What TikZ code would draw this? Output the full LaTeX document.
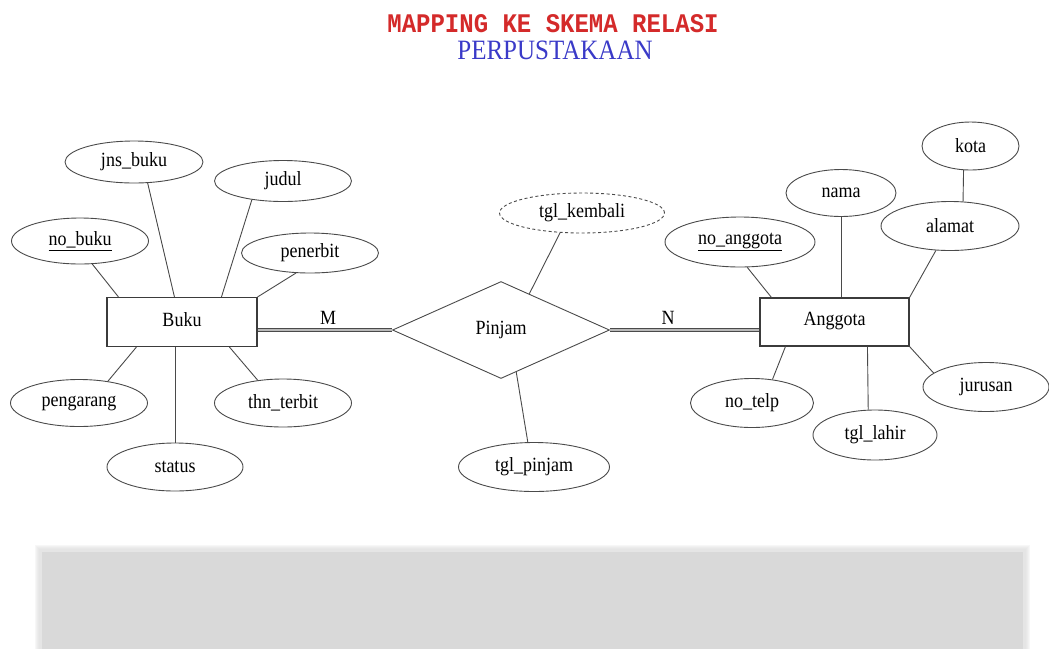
\documentclass[tikz,border=0pt]{standalone}
\usepackage{graphicx}
\usepackage{fontspec}
\setmainfont{Liberation Serif}
\newfontfamily\monob{Liberation Mono}
\usetikzlibrary{shapes.geometric,calc}
\definecolor{ttlred}{HTML}{D42A2A}
\definecolor{ttlblue}{HTML}{3A3AC8}
\definecolor{ln}{HTML}{4A4A4A}
\definecolor{boxgray}{HTML}{D9D9D9}
\newcommand\tx[1]{\scalebox{1}[1.12]{#1}}
\begin{document}
\begin{tikzpicture}[x=1pt,y=-1pt,
 lbl/.style={font=\fontsize{18}{20}\selectfont},
 attr/.style={ellipse,draw=ln,line width=0.9pt,inner sep=0pt,lbl},
 ent/.style={rectangle,draw=ln!80!black,line width=1.1pt,minimum width=150pt,minimum height=49pt,inner sep=0pt,text depth=6pt,lbl},
 rel/.style={diamond,draw=ln,line width=0.9pt,minimum width=217pt,minimum height=97pt,inner sep=0pt,text depth=5pt,lbl},
 conn/.style={draw=ln,line width=0.9pt},
 dbl/.style={draw=ln,line width=1pt,double=gray!55,double distance=1.6pt},
 card/.style={inner sep=0pt,lbl}]
\useasboundingbox (0,0) rectangle (1049,649);
\fill[white] (0,0) rectangle (1049,649);

% titles
\node[font=\monob\bfseries\fontsize{24}{26}\selectfont,text=ttlred] (t1) at (553,24) {\tx{MAPPING KE SKEMA RELASI}};
\node[font=\fontsize{25}{27}\selectfont,text=ttlblue] (t2) at (555,50) {\tx{PERPUSTAKAAN}};

% grey panel with soft edge
\foreach \d in {1,2,3,4,5} {\fill[boxgray,opacity=0.2] (40-\d,550-\d) rectangle (1025+\d,649);}
\fill[boxgray] (42,552) rectangle (1023,649);

% entities and relationship
\node[ent] (buku) at (182,322) {\tx{Buku}};
\node[ent,minimum width=149pt,minimum height=48pt] (ang) at (834.5,322) {\tx{Anggota}};
\node[rel] (pin) at (501,330) {\tx{Pinjam}};

% Buku attributes
\node[attr,minimum width=137pt,minimum height=46pt] (nob) at (80,241) {\tx{\underline{no\_buku}}};
\node[attr,minimum width=138pt,minimum height=42pt] (jns) at (134,162) {\tx{jns\_buku}};
\node[attr,minimum width=137pt,minimum height=41pt] (jud) at (283,181) {\tx{judul}};
\node[attr,minimum width=137pt,minimum height=40pt] (pen) at (310,253) {\tx{penerbit}};
\node[attr,minimum width=137pt,minimum height=47pt] (peng) at (79,403) {\tx{pengarang}};
\node[attr,minimum width=137pt,minimum height=48pt] (thn) at (283,403) {\tx{thn\_terbit}};
\node[attr,minimum width=136pt,minimum height=48pt] (sta) at (175,467) {\tx{status}};

% Pinjam attributes
\node[attr,dashed,dash pattern=on 3pt off 2.5pt,minimum width=165pt,minimum height=40pt] (tkem) at (582,213) {\tx{tgl\_kembali}};
\node[attr,minimum width=151pt,minimum height=49pt] (tpin) at (534,467) {\tx{tgl\_pinjam}};

% Anggota attributes
\node[attr,minimum width=150pt,minimum height=50pt] (noa) at (740,242) {\tx{\underline{no\_anggota}}};
\node[attr,minimum width=110pt,minimum height=47pt] (nam) at (841,193) {\tx{nama}};
\node[attr,minimum width=138pt,minimum height=49pt] (ala) at (950,226) {\tx{alamat}};
\node[attr,minimum width=97pt,minimum height=48pt] (kot) at (970.5,146) {\tx{kota}};
\node[attr,minimum width=123pt,minimum height=49pt] (tel) at (752,403) {\tx{no\_telp}};
\node[attr,minimum width=124pt,minimum height=50pt] (lah) at (875,435) {\tx{tgl\_lahir}};
\node[attr,minimum width=126pt,minimum height=49pt] (jur) at (986,387) {\tx{jurusan}};

% cardinalities
\node[card] (m) at (328,318) {\tx{M}};
\node[card] (n) at (668,318) {\tx{N}};

% relationship lines
\draw[dbl] (pin.west -| buku.east) -- (pin.west);
\draw[dbl] (pin.east) -- (pin.east -| ang.west);

% Buku connectors
\draw[conn] (nob.-62) -- ($(buku.north west)+(12,0)$);
\draw[conn] (jns.-57) -- ($(buku.north west)+(68,0)$);
\draw[conn] (jud.-149) -- ($(buku.north west)+(115,0)$);
\draw[conn] (pen.-125) -- (buku.north east);
\draw[conn] (peng.37) -- ($(buku.south west)+(30,0)$);
\draw[conn] (sta.north) -- (sta.north |- buku.south);
\draw[conn] (thn.138) -- ($(buku.south west)+(123,0)$);

% Pinjam connectors
\draw[conn] (tkem.-138) -- ($(pin.north)!0.26!(pin.east)$);
\draw[conn] ($(pin.south)!0.14!(pin.east)$) -- (tpin.104);

% Anggota connectors
\draw[conn] (noa.-74) -- ($(ang.north west)+(12,0)$);
\draw[conn] (nam.south) -- (nam.south |- ang.north);
\draw[conn] (ala.-120) -- (ang.north east);
\draw[conn] (kot.-106) -- (ala.62);
\draw[conn] (tel.49) -- ($(ang.south west)+(26,0)$);
\draw[conn] (lah.105) -- ($(ang.south west)+(108,0)$);
\draw[conn] (jur.165) -- (ang.south east);
\end{tikzpicture}
\end{document}
